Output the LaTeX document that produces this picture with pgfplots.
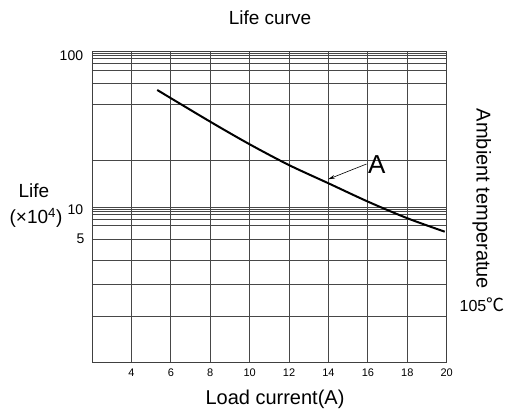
\documentclass[border=0pt]{standalone}
\usepackage{fontspec}
\setmainfont{Liberation Sans}
\newfontfamily\cjk{Noto Sans CJK SC}
\usepackage{pgfplots}
\pgfplotsset{compat=1.18}
\usetikzlibrary{arrows.meta}
\begin{document}
\begin{tikzpicture}
\path[use as bounding box] (-92pt,-57.3pt) rectangle (415pt,362.7pt);
\begin{axis}[
  at={(0pt,0pt)}, anchor=south west,
  width=354.7pt, height=311.4pt, scale only axis,
  xmin=2, xmax=20, ymin=0, ymax=311.4,
  xtick={4,6,...,20},
  xticklabels={4,6,8,10,12,14,16,18,\raisebox{-3pt}{20}},
  ytick={46,78,102.7,123.7,137,143.7,148.7,151,153.4,155.4,202.7,258,279,292.7,299.4,304.7,307,309.4,311.4},
  yticklabels={,,,5,,,,,,,,,,,,,,,},
  grid=major,
  major grid style={black!72, line width=0.9pt},
  axis line style={black!75, line width=0.9pt},
  tick style={draw=none},
  /pgf/number format/assume math mode=true,
  xticklabel style={font=\fontsize{11}{13}\selectfont, yshift=-3pt},
  yticklabel style={font=\fontsize{14}{16}\selectfont, xshift=-4pt},
  clip=false,
]
\addplot[black, line width=2pt, smooth] coordinates {
  (5.31,272.7) (8.0,241) (10.0,218.4) (11.99,197.7) (14.0,179.4)
  (16.01,161) (18.01,144.4) (19.9,131)
};
\draw[-{Stealth[length=7pt,width=3.5pt]}, line width=0.6pt]
  (axis cs:15.93,198.7) -- (axis cs:13.98,183.4);
\node[anchor=west, font=\fontsize{26}{30}\selectfont, inner sep=0pt]
  at (axis cs:16.0,197.7) {A};
\end{axis}
\node[anchor=east, inner sep=0pt, font=\fontsize{14}{16}\selectfont] at (-8.7pt,307pt) {100};
\node[anchor=east, inner sep=0pt, font=\fontsize{14}{16}\selectfont] at (-8.7pt,153.5pt) {10};
\node[font=\fontsize{19}{22}\selectfont] at (178pt,345.4pt) {Life curve};
\node[font=\fontsize{20}{24}\selectfont] at (183pt,-36.6pt) {Load current(A)};
\node[font=\fontsize{19}{22}\selectfont] at (-58pt,172pt) {Life};
\node[font=\fontsize{19}{22}\selectfont] at (-56pt,144.5pt) {(×10\textsuperscript{4})};
\node[font=\fontsize{20}{24}\selectfont, rotate=-90] at (389.7pt,163.7pt) {Ambient temperatue};
\node[font=\fontsize{16}{19}\selectfont] at (390pt,57.7pt) {105{\cjk\fontsize{18}{20}\selectfont ℃}};
\end{tikzpicture}
\end{document}
